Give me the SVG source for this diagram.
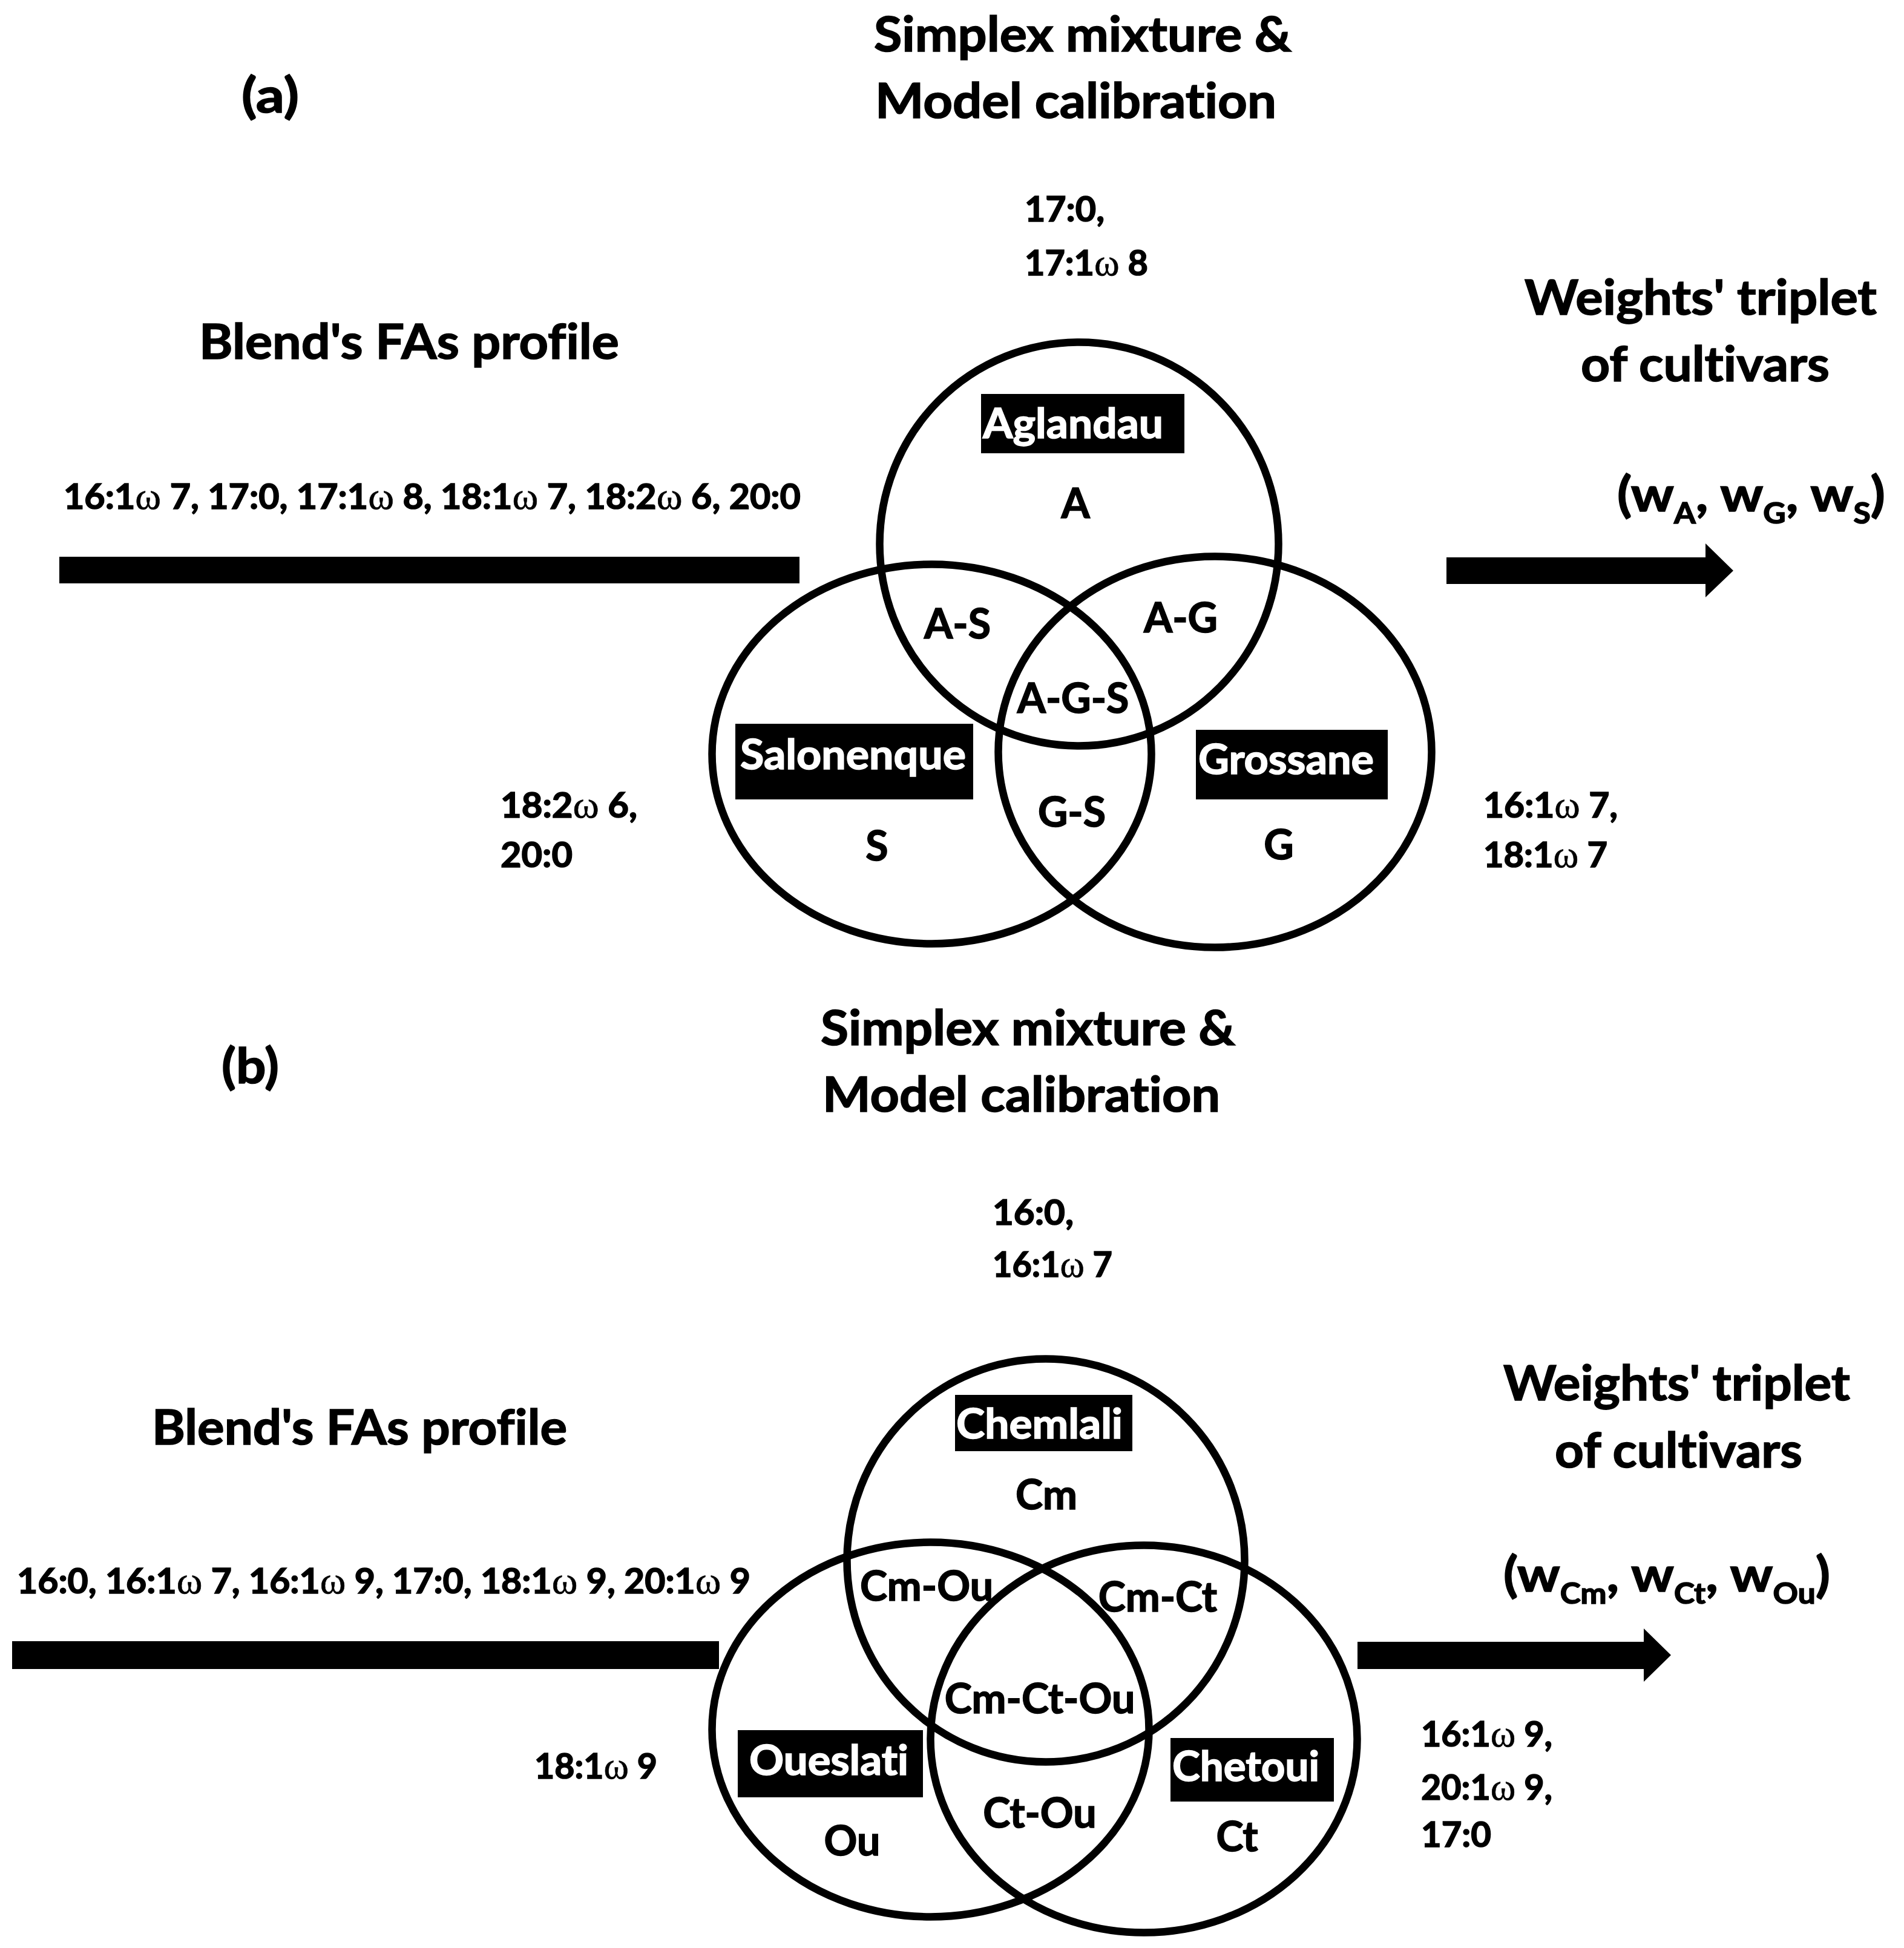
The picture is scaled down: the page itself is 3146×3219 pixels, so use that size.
<svg xmlns="http://www.w3.org/2000/svg" width="3146" height="3219" viewBox="0 0 3146 3219">
<style>
.t{font-family:Lato,"Open Sans","Liberation Sans",sans-serif;font-weight:700;fill:#000;stroke:#000;stroke-width:1.6px;font-variant-ligatures:none}
.ti{font-size:81px}
.fa{font-size:57px}
.lb{font-size:68px}
.wt{fill:#fff;stroke:#fff}
.om{font-family:"Liberation Serif",serif;font-weight:400;font-size:1.1em;stroke-width:0.6px}
.sb{font-size:47px}
.v{fill:none;stroke:#000;stroke-width:12.5}
.bx{fill:#000}
.ar{fill:#000}
</style>
<rect width="3146" height="3219" fill="#fff"/>

<!-- ===== Panel (a) ===== -->
<g id="panel-a-labels">
<text class="t ti" x="399" y="186" textLength="95" lengthAdjust="spacingAndGlyphs">(a)</text>
<g id="a-title">
<text class="t ti" x="1444" y="85" textLength="690" lengthAdjust="spacingAndGlyphs">Simplex mixture &amp;</text>
<text class="t ti" x="1446" y="195" textLength="663" lengthAdjust="spacingAndGlyphs">Model calibration</text>
</g>
<g id="a-input">
<text class="t ti" x="329" y="593" textLength="694" lengthAdjust="spacingAndGlyphs">Blend's FAs profile</text>
<text class="t fa" x="105" y="841" textLength="1218" lengthAdjust="spacingAndGlyphs">16:1<tspan class="om">ω</tspan> 7, 17:0, 17:1<tspan class="om">ω</tspan> 8, 18:1<tspan class="om">ω</tspan> 7, 18:2<tspan class="om">ω</tspan> 6, 20:0</text>
</g>
<g id="a-output">
<text class="t ti" x="2519" y="520" textLength="582" lengthAdjust="spacingAndGlyphs">Weights' triplet</text>
<text class="t ti" x="2612" y="630" textLength="411" lengthAdjust="spacingAndGlyphs">of cultivars</text>
<text class="t ti" x="2672" y="845" textLength="443" lengthAdjust="spacingAndGlyphs">(w<tspan class="sb" dy="20">A</tspan><tspan dy="-20">, w</tspan><tspan class="sb" dy="20">G</tspan><tspan dy="-20">, w</tspan><tspan class="sb" dy="20">S</tspan><tspan dy="-20">)</tspan></text>
</g>
<g id="a-fa-top">
<text class="t fa" x="1693" y="366" textLength="132" lengthAdjust="spacingAndGlyphs">17:0,</text>
<text class="t fa" x="1693" y="455" textLength="204" lengthAdjust="spacingAndGlyphs">17:1<tspan class="om">ω</tspan> 8</text>
</g>
<g id="a-fa-left">
<text class="t fa" x="827" y="1351" textLength="226" lengthAdjust="spacingAndGlyphs">18:2<tspan class="om">ω</tspan> 6,</text>
<text class="t fa" x="827" y="1433" textLength="119" lengthAdjust="spacingAndGlyphs">20:0</text>
</g>
<g id="a-fa-right">
<text class="t fa" x="2451" y="1351" textLength="222" lengthAdjust="spacingAndGlyphs">16:1<tspan class="om">ω</tspan> 7,</text>
<text class="t fa" x="2451" y="1433" textLength="205" lengthAdjust="spacingAndGlyphs">18:1<tspan class="om">ω</tspan> 7</text>
</g>
</g>

<g id="a-aglandau">
<ellipse class="v" cx="1783" cy="899" rx="329.5" ry="333.5"/>
<rect class="bx" x="1621" y="651" width="336" height="98"/>
<text class="t lb wt" x="1624" y="724" textLength="298" lengthAdjust="spacingAndGlyphs">Aglandau</text>
<text class="t lb" x="1777" y="856" text-anchor="middle">A</text>
</g>
<g id="a-salonenque">
<ellipse class="v" cx="1539.5" cy="1246" rx="363" ry="313.5"/>
<rect class="bx" x="1215" y="1196" width="393" height="125"/>
<text class="t lb wt" x="1223" y="1271" textLength="373" lengthAdjust="spacingAndGlyphs">Salonenque</text>
<text class="t lb" x="1449" y="1422" text-anchor="middle">S</text>
</g>
<g id="a-grossane">
<ellipse class="v" cx="2007.5" cy="1242.5" rx="358" ry="323"/>
<rect class="bx" x="1976" y="1206" width="317" height="115"/>
<text class="t lb wt" x="1980" y="1279" textLength="290" lengthAdjust="spacingAndGlyphs">Grossane</text>
<text class="t lb" x="2113" y="1420" text-anchor="middle">G</text>
</g>
<g id="a-intersections">
<text class="t lb" x="1582" y="1055" text-anchor="middle">A-S</text>
<text class="t lb" x="1951" y="1045" text-anchor="middle">A-G</text>
<text class="t lb" x="1773" y="1178" text-anchor="middle">A-G-S</text>
<text class="t lb" x="1771" y="1366" text-anchor="middle">G-S</text>
</g>

<!-- ===== Panel (b) ===== -->
<g id="panel-b-labels">
<text class="t ti" x="366" y="1790" textLength="95" lengthAdjust="spacingAndGlyphs">(b)</text>
<g id="b-title">
<text class="t ti" x="1356" y="1727" textLength="685" lengthAdjust="spacingAndGlyphs">Simplex mixture &amp;</text>
<text class="t ti" x="1359" y="1837" textLength="657" lengthAdjust="spacingAndGlyphs">Model calibration</text>
</g>
<g id="b-input">
<text class="t ti" x="251" y="2387" textLength="686" lengthAdjust="spacingAndGlyphs">Blend's FAs profile</text>
<text class="t fa" x="28" y="2633" textLength="1212" lengthAdjust="spacingAndGlyphs">16:0, 16:1<tspan class="om">ω</tspan> 7, 16:1<tspan class="om">ω</tspan> 9, 17:0, 18:1<tspan class="om">ω</tspan> 9, 20:1<tspan class="om">ω</tspan> 9</text>
</g>
<g id="b-output">
<text class="t ti" x="2484" y="2314" textLength="573" lengthAdjust="spacingAndGlyphs">Weights' triplet</text>
<text class="t ti" x="2569" y="2425" textLength="409" lengthAdjust="spacingAndGlyphs">of cultivars</text>
<text class="t ti" x="2484" y="2630" textLength="540" lengthAdjust="spacingAndGlyphs">(w<tspan class="sb" dy="20">Cm</tspan><tspan dy="-20">, w</tspan><tspan class="sb" dy="20">Ct</tspan><tspan dy="-20">, w</tspan><tspan class="sb" dy="20">Ou</tspan><tspan dy="-20">)</tspan></text>
</g>
<g id="b-fa-top">
<text class="t fa" x="1640" y="2024" textLength="134" lengthAdjust="spacingAndGlyphs">16:0,</text>
<text class="t fa" x="1640" y="2110" textLength="198" lengthAdjust="spacingAndGlyphs">16:1<tspan class="om">ω</tspan> 7</text>
</g>
<g id="b-fa-left">
<text class="t fa" x="883" y="2939" textLength="203" lengthAdjust="spacingAndGlyphs">18:1<tspan class="om">ω</tspan> 9</text>
</g>
<g id="b-fa-right">
<text class="t fa" x="2348" y="2886" textLength="217" lengthAdjust="spacingAndGlyphs">16:1<tspan class="om">ω</tspan> 9,</text>
<text class="t fa" x="2348" y="2974" textLength="217" lengthAdjust="spacingAndGlyphs">20:1<tspan class="om">ω</tspan> 9,</text>
<text class="t fa" x="2348" y="3052" textLength="116" lengthAdjust="spacingAndGlyphs">17:0</text>
</g>
</g>

<g id="b-chemlali">
<ellipse class="v" cx="1728" cy="2578.5" rx="328.5" ry="333"/>
<rect class="bx" x="1578" y="2305" width="293" height="93"/>
<text class="t lb wt" x="1580" y="2377" textLength="275" lengthAdjust="spacingAndGlyphs">Chemlali</text>
<text class="t lb" x="1729" y="2494" text-anchor="middle">Cm</text>
</g>
<g id="b-oueslati">
<ellipse class="v" cx="1537.5" cy="2858" rx="361" ry="309.5"/>
<rect class="bx" x="1219" y="2859" width="306" height="111"/>
<text class="t lb wt" x="1238" y="2933" textLength="263" lengthAdjust="spacingAndGlyphs">Oueslati</text>
<text class="t lb" x="1408" y="3066" text-anchor="middle">Ou</text>
</g>
<g id="b-chetoui">
<ellipse class="v" cx="1890" cy="2873.5" rx="352.5" ry="320"/>
<rect class="bx" x="1934" y="2872" width="270" height="105"/>
<text class="t lb wt" x="1937" y="2943" textLength="243" lengthAdjust="spacingAndGlyphs">Chetoui</text>
<text class="t lb" x="2044" y="3059" text-anchor="middle">Ct</text>
</g>
<g id="b-intersections">
<text class="t lb" x="1531" y="2645" text-anchor="middle">Cm-Ou</text>
<text class="t lb" x="1913" y="2663" text-anchor="middle">Cm-Ct</text>
<text class="t lb" x="1718" y="2831" text-anchor="middle">Cm-Ct-Ou</text>
<text class="t lb" x="1718" y="3020" text-anchor="middle">Ct-Ou</text>
</g>

<!-- ===== Connectors ===== -->
<g id="connectors">
<rect class="ar" x="98" y="920" width="1223" height="44"/>
<polygon class="ar" points="2390,921 2818,921 2818,898 2864,943 2818,987 2818,965 2390,965"/>
<rect class="ar" x="20" y="2712" width="1168" height="46"/>
<polygon class="ar" points="2243,2713 2716,2713 2716,2691 2761,2735 2716,2779 2716,2758 2243,2758"/>
</g>
</svg>
